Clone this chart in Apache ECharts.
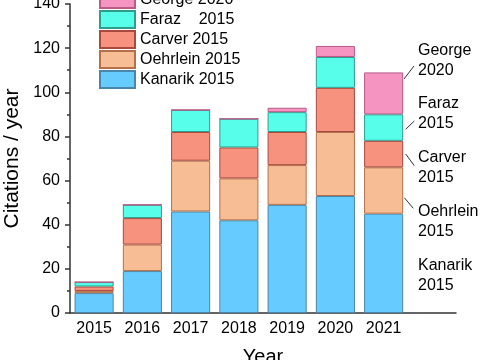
<!DOCTYPE html>
<html>
<head>
<meta charset="utf-8">
<script src="https://cdn.jsdelivr.net/npm/echarts@6/dist/echarts.min.js"></script>
<style>html,body{margin:0;padding:0;background:#fff;}#c{width:480px;height:360px;}</style>
</head>
<body>
<div id="c"></div>
<script>
const years = ['2015','2016','2017','2018','2019','2020','2021',''];
const kanarik  = [9, 19, 46, 42, 49, 53, 45, null];
const oehrlein = [1, 12, 23, 19, 18, 29, 21, null];
const carver   = [2, 12, 13, 14, 15, 20, 12, null];
const faraz    = [2, 6, 10, 13, 9, 14, 12, null];
const george   = [0, 0, 0, 0, 2, 5, 19, null];
const seriesNames = ['Kanarik 2015','Oehrlein 2015','Carver 2015','Faraz    2015','George 2020'];
const yTicks = [0,20,40,60,80,100,120,140];

const FONT = 'Liberation Sans, Arial, sans-serif';
const fills = ['#66CCFF','#F7BE96','#F7927F','#57FFEB','#F593C1'];
const borders = ['#4a86a8','#b5704a','#a84a3e','#2f9c8c','#b85c88'];
const dataSets = [kanarik, oehrlein, carver, faraz, george];

const chart = echarts.init(document.getElementById('c'), null, {renderer:'canvas'});
const series = dataSets.map((d,i)=>({
  name: seriesNames[i], type:'bar', stack:'all', data:d, barWidth:'81%',
  itemStyle:{color:fills[i], borderColor:borders[i], borderWidth:1},
  emphasis:{disabled:true}
}));
function annot(txt, x, y){ return {type:'text', left:x, top:y, style:{text:txt, font:'16px '+FONT, fill:'#000', lineHeight:20}}; }
function lead(x1,y1,x2,y2){ return {type:'line', shape:{x1,y1,x2,y2}, style:{stroke:'#333', lineWidth:1}}; }
chart.setOption({
  animation:false,
  textStyle:{fontFamily:FONT},
  grid:{left:70, right:24, top:4, bottom:47, containLabel:false, outerBoundsMode:'none'},
  legend:{
    data: seriesNames.slice().reverse(), orient:'vertical', left:99, top:-10, padding:0,
    icon:'rect',
    itemWidth:35, itemHeight:17, itemGap:1,
    textStyle:{fontSize:16, color:'#000', fontFamily:FONT}, selectedMode:false
  },
  xAxis:[{
    type:'category', data:years, position:'bottom',
    name:'Year', nameLocation:'middle', nameGap:34,
    nameTextStyle:{fontSize:20, color:'#000', fontFamily:FONT},
    axisLine:{lineStyle:{color:'#333', width:1.5}},
    axisTick:{alignWithLabel:true, length:5, lineStyle:{color:'#333', width:1.5}},
    axisLabel:{fontSize:16, color:'#000', margin:8, interval:0, fontFamily:FONT},
    splitLine:{show:false}
  },{
    type:'category', data:years, position:'bottom',
    axisLine:{show:false},
    axisTick:{length:3, lineStyle:{color:'#333', width:1.5}},
    axisLabel:{show:false}, splitLine:{show:false}
  }],
  yAxis:{
    type:'value', min:0, max:140, interval:20,
    name:'Citations / year', nameLocation:'middle', nameGap:40,
    nameTextStyle:{fontSize:21, color:'#000', fontFamily:FONT},
    axisLine:{show:true, lineStyle:{color:'#333', width:1.5}},
    axisTick:{show:true, length:5, lineStyle:{color:'#333', width:1.5}},
    minorTick:{show:true, splitNumber:2, length:3, lineStyle:{color:'#333', width:1.5}},
    axisLabel:{fontSize:16, color:'#000', margin:10, fontFamily:FONT,
      formatter: v => yTicks.indexOf(v) >= 0 ? String(v) : ''},
    splitLine:{show:false}
  },
  series: series,
  graphic:[
    annot('George\n2020', 418, 41),
    annot('Faraz\n2015', 418, 94),
    annot('Carver\n2015', 418, 148),
    annot('Oehrlein\n2015', 418, 202),
    annot('Kanarik\n2015', 418, 256),
    lead(404,79,414,66),
    lead(405.7,129.3,414.3,121),
    lead(405.7,154,414.3,165.7),
    lead(404.3,197.7,413.3,208.3)
  ]
});
</script>
</body>
</html>
